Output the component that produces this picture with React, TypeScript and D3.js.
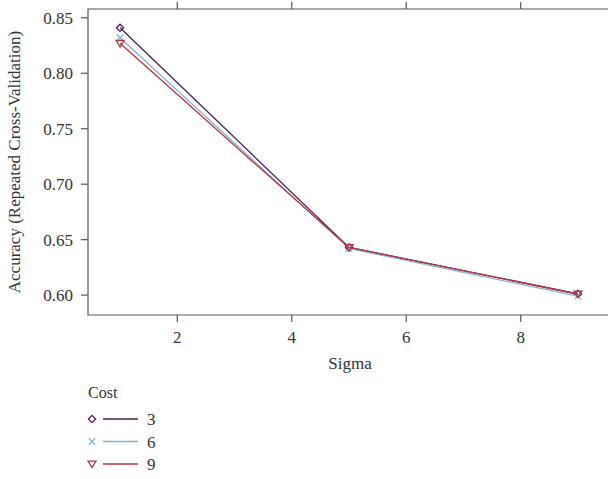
import React from "react";
import * as d3 from "d3";

const sigmas = [1, 5, 9];
const costs = ["3", "6", "9"];
const acc3 = [0.841, 0.643, 0.601];
const acc6 = [0.832, 0.642, 0.599];
const acc9 = [0.827, 0.643, 0.601];
const xTicks = [2, 4, 6, 8];
const yTicks = [0.6, 0.65, 0.7, 0.75, 0.8, 0.85];
const colors = ["#4a1d52", "#7fb3d8", "#b4353f"];
const shapes = ["diamond", "cross", "triangle"];

const W = 608;
const H = 479;
const left = 88;
const right = 610;
const top = 9;
const bottom = 315;
const font = "Liberation Serif, Times, serif";
const axisColor = "#555";
const textColor = "#333";

function Marker({ shape, x, y, color }: { shape: string; x: number; y: number; color: string }) {
  if (shape === "diamond") {
    const s = 3.6;
    return (
      <path
        d={`M${x},${y - s}L${x + s},${y}L${x},${y + s}L${x - s},${y}Z`}
        fill="none"
        stroke={color}
        strokeWidth={1.3}
      />
    );
  }
  if (shape === "cross") {
    const s = 3.2;
    return (
      <path
        d={`M${x - s},${y - s}L${x + s},${y + s}M${x - s},${y + s}L${x + s},${y - s}`}
        stroke={color}
        strokeWidth={1.3}
      />
    );
  }
  const s = 4;
  return (
    <path
      d={`M${x - s},${y - s * 0.7}L${x + s},${y - s * 0.7}L${x},${y + s * 0.9}Z`}
      fill="none"
      stroke={color}
      strokeWidth={1.3}
    />
  );
}

export default function App() {
  const series = [acc3, acc6, acc9];
  const allY = series.flat();
  const [xmin, xmax] = d3.extent(sigmas) as [number, number];
  const [ymin, ymax] = d3.extent(allY) as [number, number];
  const xPad = (xmax - xmin) * 0.07;
  const yPad = (ymax - ymin) * 0.07;
  const x = d3.scaleLinear().domain([xmin - xPad, xmax + xPad]).range([left, right]);
  const y = d3.scaleLinear().domain([ymin - yPad, ymax + yPad]).range([bottom, top]);
  const line = d3
    .line<number>()
    .x((_, i) => x(sigmas[i]))
    .y((d) => y(d));

  return (
    <svg
      width={W}
      height={H}
      style={{ position: "absolute", left: 0, top: 0, background: "#fff", overflow: "hidden", fontFamily: font }}
    >
      {/* panel frame: the right edge falls outside the drawing */}
      <path
        d={`M${right},${top}H${left}V${bottom}H${right}`}
        fill="none"
        stroke={axisColor}
        strokeWidth={1.2}
      />
      {xTicks.map((t) => (
        <g key={"x" + t}>
          <line x1={x(t)} x2={x(t)} y1={bottom} y2={bottom + 7} stroke={axisColor} strokeWidth={1.2} />
          <line x1={x(t)} x2={x(t)} y1={top} y2={top - 7} stroke={axisColor} strokeWidth={1.2} />
          <text x={x(t)} y={bottom + 28} textAnchor="middle" fontSize={17} fill={textColor}>
            {t}
          </text>
        </g>
      ))}
      {yTicks.map((t) => (
        <g key={"y" + t}>
          <line x1={left} x2={left - 7} y1={y(t)} y2={y(t)} stroke={axisColor} strokeWidth={1.2} />
          <text x={left - 15} y={y(t) + 6} textAnchor="end" fontSize={17} fill={textColor}>
            {t.toFixed(2)}
          </text>
        </g>
      ))}
      {series.map((vals, si) => (
        <g key={"s" + si}>
          <path d={line(vals) || ""} fill="none" stroke={colors[si]} strokeWidth={1.3} />
          {vals.map((v, i) => (
            <Marker key={i} shape={shapes[si]} x={x(sigmas[i])} y={y(v)} color={colors[si]} />
          ))}
        </g>
      ))}
      <text x={350} y={369} textAnchor="middle" fontSize={17} fill={textColor}>
        Sigma
      </text>
      <text
        transform={`translate(20,${(top + bottom) / 2}) rotate(-90)`}
        textAnchor="middle"
        fontSize={17}
        fill={textColor}
      >
        Accuracy (Repeated Cross-Validation)
      </text>
      <text x={88} y={398} fontSize={16} fill={textColor}>
        Cost
      </text>
      {costs.map((c, i) => {
        const ry = 419 + i * 22.5;
        return (
          <g key={"l" + c}>
            <Marker shape={shapes[i]} x={92} y={ry} color={colors[i]} />
            <line x1={103} x2={138} y1={ry} y2={ry} stroke={colors[i]} strokeWidth={1.3} />
            <text x={147} y={ry + 6} fontSize={17} fill={textColor}>
              {c}
            </text>
          </g>
        );
      })}
    </svg>
  );
}
